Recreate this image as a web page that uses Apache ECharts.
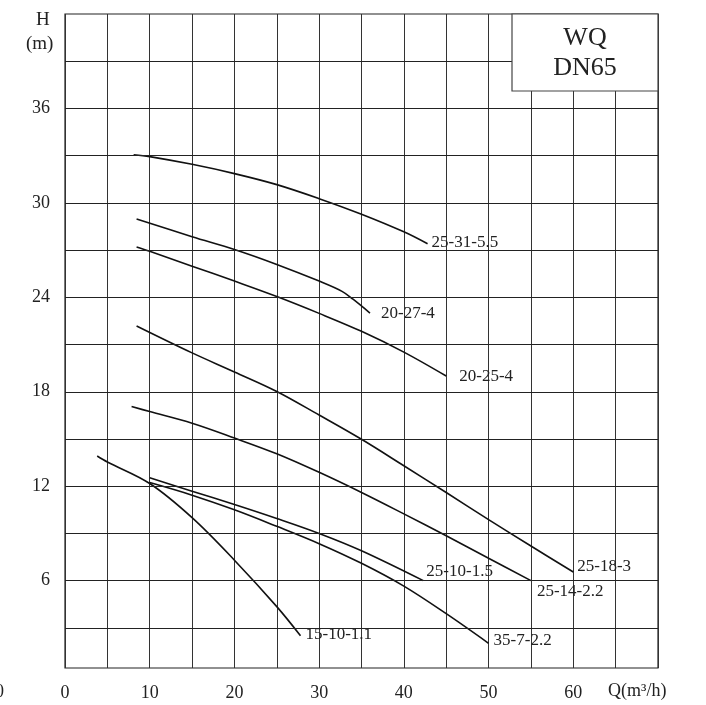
<!DOCTYPE html>
<html>
<head>
<meta charset="utf-8">
<style>
  html, body { margin: 0; padding: 0; background: #fff; }
  #chart { width: 706px; height: 705px; }
</style>
<script src="https://cdn.jsdelivr.net/npm/echarts@6/dist/echarts.min.js"></script>
</head>
<body>
<div id="chart"></div>
<script>
// ---- Data (Q in m3/h, H in m) ----
const xTickLabels = [0, 10, 20, 30, 40, 50, 60];
const yTickLabels = [6, 12, 18, 24, 30, 36];
const yGridValues = [3, 6, 9, 12, 15, 18, 21, 24, 27, 30, 33, 36, 39];

const names = ['25-31-5.5', '20-27-4', '20-25-4', '25-18-3', '25-14-2.2', '25-10-1.5', '35-7-2.2', '15-10-1.1'];

const q_25_31_55 = [8.1, 10, 15, 20, 25, 30, 35, 40, 42.8];
const h_25_31_55 = [33.06, 32.94, 32.45, 31.86, 31.16, 30.27, 29.28, 28.16, 27.4];

const q_20_27_4 = [8.45, 15, 20, 25, 30, 32.7, 34, 36];
const h_20_27_4 = [28.98, 27.85, 27.04, 26.09, 25.03, 24.38, 23.88, 23.0];

const q_20_25_4 = [8.45, 10, 15, 20, 25, 30, 35, 40, 45];
const h_20_25_4 = [27.2, 26.92, 25.98, 25.03, 24.05, 22.98, 21.84, 20.52, 19.0];

const q_25_18_3 = [8.45, 15, 20, 25, 30, 35, 40, 45, 50, 55, 60];
const h_25_18_3 = [22.18, 20.47, 19.26, 18.02, 16.52, 14.98, 13.3, 11.6, 9.88, 8.2, 6.55];

const q_25_14_22 = [7.86, 10, 15, 20, 25, 30, 35, 40, 45, 50, 55];
const h_25_14_22 = [17.06, 16.74, 16.0, 15.06, 14.06, 12.88, 11.6, 10.24, 8.85, 7.42, 6.0];

const q_25_10_15 = [10, 15, 20, 25, 30, 35, 42.3];
const h_25_10_15 = [12.53, 11.68, 10.84, 9.95, 9.0, 7.9, 6.0];

const q_35_7_22 = [10, 15, 20, 25, 30, 35, 40, 45, 50];
const h_35_7_22 = [12.23, 11.43, 10.5, 9.45, 8.35, 7.1, 5.65, 3.9, 2.02];

const q_15_10_11 = [3.8, 5, 10, 15, 20, 25, 27.8];
const h_15_10_11 = [13.92, 13.54, 12.17, 10.0, 7.3, 4.35, 2.5];

// label placement tweaks (style only)
const labelStyle = [
  { distance: 4,  offset: [0, -1] },
  { distance: 11, offset: [0, 0] },
  { distance: 13, offset: [0, 1] },
  { distance: 4,  offset: [0, -5] },
  { distance: 6,  offset: [0, 11] },
  { distance: 3,  offset: [0, -9] },
  { distance: 5,  offset: [0, -3] },
  { distance: 5,  offset: [0, -1] }
];

const qs = [q_25_31_55, q_20_27_4, q_20_25_4, q_25_18_3, q_25_14_22, q_25_10_15, q_35_7_22, q_15_10_11];
const hs = [h_25_31_55, h_20_27_4, h_20_25_4, h_25_18_3, h_25_14_22, h_25_10_15, h_35_7_22, h_15_10_11];

const FONT = '"Liberation Serif", "DejaVu Serif", serif';
const INK = '#111';

const series = names.map((n, i) => ({
  name: n,
  type: 'line',
  smooth: 0.35,
  symbol: 'none',
  clip: false,
  lineStyle: { color: INK, width: 1.6 },
  data: qs[i].map((q, j) => [q, hs[i][j]]),
  endLabel: {
    show: true,
    formatter: n,
    color: '#222',
    fontFamily: FONT,
    fontSize: 17,
    distance: labelStyle[i].distance,
    offset: labelStyle[i].offset
  },
  z: 3
}));

// horizontal grid lines via markLine on a helper series
series.push({
  type: 'line',
  data: [],
  silent: true,
  markLine: {
    silent: true,
    symbol: ['none', 'none'],
    label: { show: false },
    lineStyle: { color: '#222', width: 1, type: 'solid' },
    data: yGridValues.map(v => ({ yAxis: v }))
  },
  z: 1
});

const chart = echarts.init(document.getElementById('chart'), null, { renderer: 'canvas' });
chart.setOption({
  animation: false,
  backgroundColor: '#fff',
  grid: {
    left: 65, right: 48, top: 14, bottom: 37,
    show: true, borderColor: '#222', borderWidth: 1.2, backgroundColor: 'transparent'
  },
  xAxis: {
    type: 'value',
    min: 0, max: 70, interval: 5,
    axisLine: { show: false },
    axisTick: { show: false },
    splitLine: { show: true, lineStyle: { color: '#333', width: 1 } },
    axisLabel: {
      margin: 16,
      color: '#222',
      fontFamily: FONT,
      fontSize: 18,
      formatter: v => (xTickLabels.indexOf(v) >= 0 ? String(v) : '')
    }
  },
  yAxis: {
    type: 'value',
    min: 0.45, max: 42,
    axisLine: { show: false },
    axisTick: { show: false },
    splitLine: { show: false },
    axisLabel: {
      customValues: yTickLabels,
      margin: 15,
      color: '#222',
      fontFamily: FONT,
      fontSize: 18
    }
  },
  graphic: [
    { type: 'text', left: 36, top: 11, z: 10,
      style: { text: 'H', font: '19px ' + FONT, fill: '#222' } },
    { type: 'text', left: 26, top: 35, z: 10,
      style: { text: '(m)', font: '19px ' + FONT, fill: '#222' } },
    { type: 'text', left: 608, top: 682, z: 10,
      style: { text: 'Q(m³/h)', font: '18px ' + FONT, fill: '#222' } },
    { type: 'text', left: -5, top: 683, z: 10,
      style: { text: '0', font: '18px ' + FONT, fill: '#222' } },
    { type: 'rect', z: 20,
      shape: { x: 512, y: 14, width: 146, height: 77 },
      style: { fill: '#fff', stroke: '#444', lineWidth: 1.2 } },
    { type: 'text', z: 21, x: 585, y: 38,
      style: { text: 'WQ', font: '26px ' + FONT, fill: '#222', textAlign: 'center', textVerticalAlign: 'middle' } },
    { type: 'text', z: 21, x: 585, y: 68,
      style: { text: 'DN65', font: '26px ' + FONT, fill: '#222', textAlign: 'center', textVerticalAlign: 'middle' } }
  ],
  series: series
});
</script>
</body>
</html>
